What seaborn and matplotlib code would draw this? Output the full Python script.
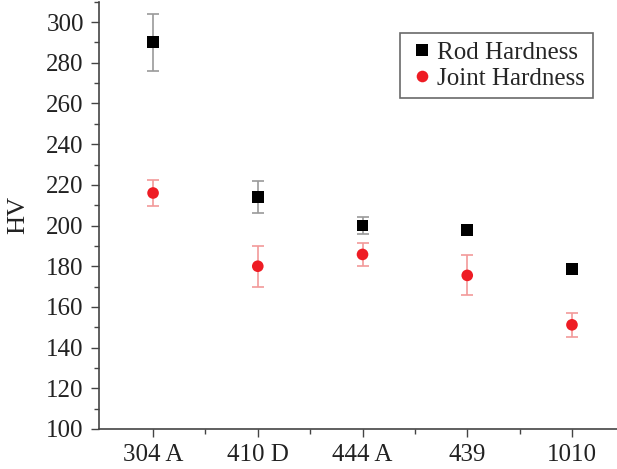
import numpy as np
import pandas as pd
import matplotlib
matplotlib.use("Agg")
import matplotlib.pyplot as plt
from matplotlib.ticker import MultipleLocator
import seaborn as sns

# hardness values
materials = ['304 A', '410 D', '444 A', '439', '1010']
rod_hv = [290.2, 214.0, 200.0, 197.8, 178.6]
rod_err = [14.0, 8.0, 4.2, 1.2, 1.0]
joint_hv = [216.0, 180.0, 185.8, 175.5, 151.2]
joint_err = [6.2, 10.0, 5.6, 9.8, 6.0]

df = pd.DataFrame({
    'material': materials * 2,
    'HV': rod_hv + joint_hv,
    'err': rod_err + joint_err,
    'series': ['Rod Hardness'] * len(materials) + ['Joint Hardness'] * len(materials),
})

sns.set_style('ticks')
plt.rcParams['font.family'] = ['Liberation Serif', 'DejaVu Serif']

fig = plt.figure(figsize=(6.17, 4.69), dpi=100)
ax = fig.add_axes([0.1605, 0.0853, 0.8395, 0.911])

xpos = np.arange(len(materials))
# error bars first, under the markers
ax.errorbar(xpos, rod_hv, yerr=rod_err, fmt='none', ecolor='#9a9a9a',
            elinewidth=1.2, capsize=4, capthick=1.2, zorder=1)
ax.errorbar(xpos, joint_hv, yerr=joint_err, fmt='none', ecolor='#f29a9a',
            elinewidth=1.2, capsize=4, capthick=1.2, zorder=1)

sns.scatterplot(data=df, x='material', y='HV', hue='series', style='series',
                palette={'Rod Hardness': 'black', 'Joint Hardness': '#ee1c24'},
                markers={'Rod Hardness': 's', 'Joint Hardness': 'o'},
                s=70, linewidth=0, ax=ax, zorder=3)

ax.set_xlim(-0.516, 4.43)
ax.set_ylim(100, 310)
ax.set_xticks(xpos)
ax.set_xticks(xpos[:-1] + 0.5, minor=True)
ax.set_xticklabels(materials)
ax.set_yticks(np.arange(100, 301, 20))
ax.yaxis.set_minor_locator(MultipleLocator(10))

ax.tick_params(axis='both', which='major', length=6, width=1, labelsize=18,
               color='#444444', labelcolor='#222222', direction='out')
ax.tick_params(axis='both', which='minor', length=3.5, width=1, color='#444444')
ax.tick_params(axis='x', pad=5)
ax.tick_params(axis='y', pad=5)

ax.set_xlabel('')
ax.set_ylabel('HV', fontsize=19, color='#222222')
ax.yaxis.set_label_coords(-0.135, 0.5)

sns.despine(ax=ax)
for s in ['left', 'bottom']:
    ax.spines[s].set_linewidth(1.2)
    ax.spines[s].set_color('#444444')

leg = ax.legend(loc='upper right', bbox_to_anchor=(0.954, 0.927), fontsize=18,
                frameon=True, fancybox=False, edgecolor='#444444',
                borderaxespad=0, handletextpad=0.1, borderpad=0.35,
                labelspacing=0.12, handlelength=1.0, markerscale=1.0)
leg.get_frame().set_linewidth(1.2)

fig.savefig('out.png', dpi=100)
